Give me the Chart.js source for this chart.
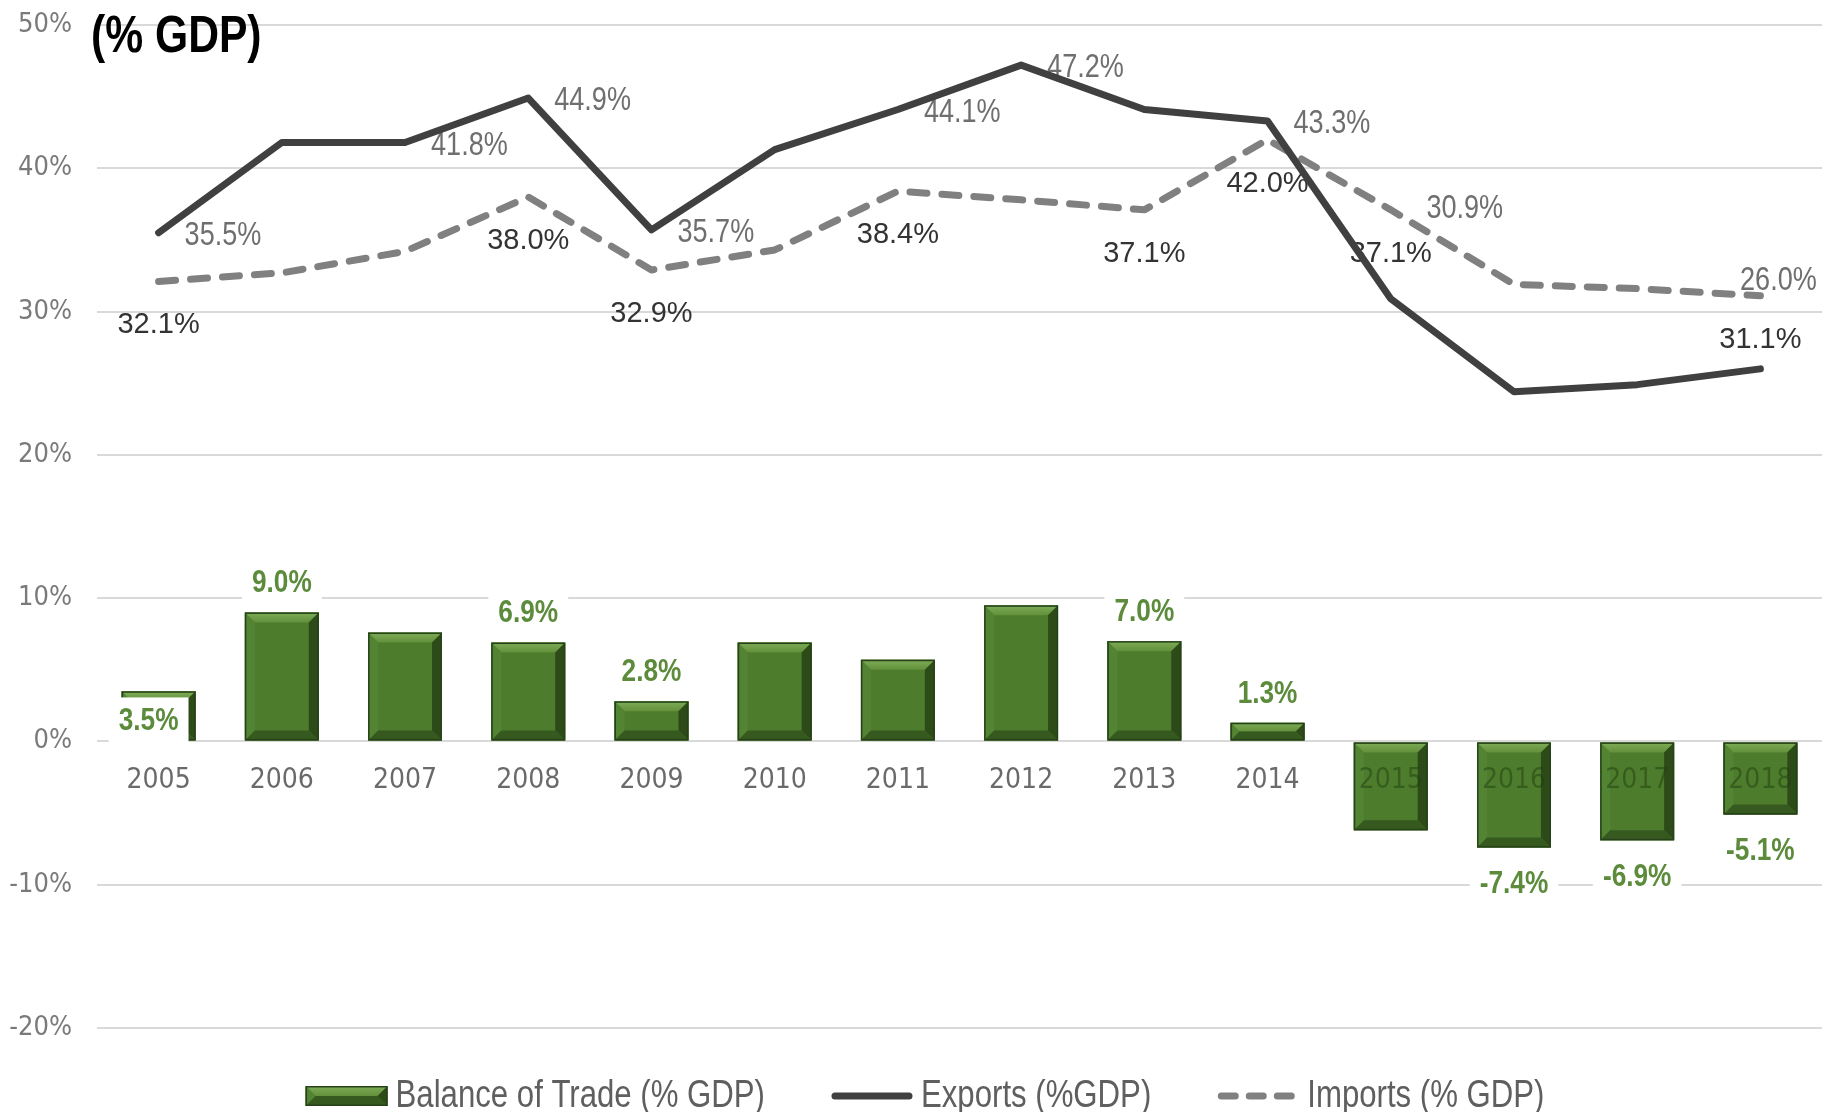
<!DOCTYPE html>
<html>
<head>
<meta charset="utf-8">
<script src="https://cdn.jsdelivr.net/npm/chart.js@4.4.0/dist/chart.umd.min.js"></script>
<style>
  html, body { margin: 0; padding: 0; background: #ffffff; }
  #wrap { width: 1828px; height: 1112px; }
</style>
</head>
<body>
<div id="wrap"><canvas id="c" width="1828" height="1112"></canvas></div>
<script>
// ---------------- data ----------------
const categories = ['2005','2006','2007','2008','2009','2010','2011','2012','2013','2014','2015','2016','2017','2018'];
const balanceOfTrade = [3.5, 9.0, 7.6, 6.9, 2.8, 6.9, 5.7, 9.5, 7.0, 1.3, -6.2, -7.4, -6.9, -5.1];
const exportsGDP = [35.5, 41.8, 41.8, 44.9, 35.7, 41.3, 44.1, 47.2, 44.1, 43.3, 30.9, 24.4, 24.9, 26.0];
const importsGDP = [32.1, 32.7, 34.2, 38.0, 32.9, 34.3, 38.4, 37.8, 37.1, 42.0, 37.1, 31.9, 31.6, 31.1];
const yTickValues = [-20, -10, 0, 10, 20, 30, 40, 50];
const seriesNames = ['Balance of Trade (% GDP)', 'Exports (%GDP)', 'Imports (% GDP)'];
const chartTitle = '(% GDP)';
// indices of points that carry a value label
const balanceLabelIdx = [0, 1, 3, 4, 8, 9, 11, 12, 13];
const exportsLabelIdx = [0, 2, 3, 4, 6, 7, 9, 10, 13];
const importsLabelIdx = [0, 3, 4, 6, 8, 9, 10, 13];

// ---------------- styles ----------------
const COND = "'DejaVu Sans Condensed','Liberation Sans Narrow','Arial Narrow',sans-serif";
const REGULAR = "'Liberation Sans',Arial,sans-serif";
const NARROW_X = 0.82; // horizontal squeeze to imitate a narrow face
const exportsLabelPlacement = { 10: 'aboveRight', 13: 'above' };
const fmt = v => v.toFixed(1) + '%';

function squeezedText(ctx, txt, x, y, align, sx) {
  const w = ctx.measureText(txt).width * sx;
  const lx = align === 'center' ? x - w / 2 : (align === 'right' ? x - w : x);
  ctx.save();
  ctx.translate(lx, y);
  ctx.scale(sx, 1);
  ctx.textAlign = 'left';
  ctx.fillText(txt, 0, 0);
  ctx.restore();
  return w;
}

function drawBevelBar(ctx, l, t, r, b) {
  const w = r - l, h = b - t;
  if (w <= 0 || h <= 0) return;
  const d = Math.max(1, Math.min(10, h / 2, w / 2));
  ctx.save();
  ctx.fillStyle = '#4d7d2c';
  ctx.fillRect(l, t, w, h);
  const poly = (pts, fill) => {
    ctx.beginPath();
    ctx.moveTo(pts[0][0], pts[0][1]);
    for (let k = 1; k < pts.length; k++) ctx.lineTo(pts[k][0], pts[k][1]);
    ctx.closePath();
    ctx.fillStyle = fill;
    ctx.fill();
  };
  const g = ctx.createLinearGradient(0, t, 0, t + d);
  g.addColorStop(0, '#80ad57');
  g.addColorStop(1, '#62903b');
  poly([[l, t], [r, t], [r - d, t + d], [l + d, t + d]], g);
  poly([[l, t], [l + d, t + d], [l + d, b - d], [l, b]], '#538434');
  poly([[r, t], [r, b], [r - d, b - d], [r - d, t + d]], '#2c4b18');
  poly([[l, b], [r, b], [r - d, b - d], [l + d, b - d]], '#35591e');
  ctx.strokeStyle = '#27421a';
  ctx.lineWidth = 1.5;
  ctx.strokeRect(l + 0.75, t + 0.75, w - 1.5, h - 1.5);
  ctx.restore();
}

const customPlugin = {
  id: 'customDecor',
  beforeDatasetsDraw(chart) {
    const ctx = chart.ctx;
    const exMeta = chart.getDatasetMeta(1);
    const imMeta = chart.getDatasetMeta(2);
    ctx.save();
    ctx.textBaseline = 'middle';
    // exports labels (gray, narrow)
    ctx.font = '33px ' + REGULAR;
    ctx.fillStyle = '#6f6f6f';
    exportsLabelIdx.forEach(i => {
      const p = exMeta.data[i];
      const pl = exportsLabelPlacement[i] || 'right';
      let x = p.x, y = p.y, al = 'left';
      if (pl === 'right') { x += 26; y += 3; }
      else if (pl === 'aboveRight') { x += 74; y -= 90; al = 'center'; }
      else { x += 18; y -= 88; al = 'center'; }
      squeezedText(ctx, fmt(exportsGDP[i]), x, y, al, NARROW_X);
    });
    // imports labels (dark, below)
    ctx.font = '29px ' + REGULAR;
    ctx.fillStyle = '#333333';
    ctx.textAlign = 'center';
    importsLabelIdx.forEach(i => {
      const p = imMeta.data[i];
      ctx.fillText(fmt(importsGDP[i]), p.x, p.y + 44);
    });
    ctx.restore();
  },
  afterDatasetDraw(chart, args) {
    if (args.index !== 0) return;
    const ctx = chart.ctx;
    const meta = args.meta;
    meta.data.forEach(el => {
      const half = el.width / 2;
      drawBevelBar(ctx, el.x - half, Math.min(el.y, el.base), el.x + half, Math.max(el.y, el.base));
    });
    // bar value labels with white boxes
    ctx.save();
    ctx.font = 'bold 32px ' + REGULAR;
    ctx.textBaseline = 'middle';
    balanceLabelIdx.forEach(i => {
      const el = meta.data[i];
      const v = balanceOfTrade[i];
      const txt = fmt(v);
      let x = el.x, y;
      if (i === 0) { x -= 10; y = el.base - 20; }
      else if (v >= 0) { y = el.y - 30; }
      else { y = el.y + 36; }
      const tw = ctx.measureText(txt).width * NARROW_X;
      ctx.fillStyle = '#ffffff';
      ctx.fillRect(x - tw / 2 - 10, y - 23, tw + 20, 46);
      ctx.fillStyle = '#5b8b3b';
      squeezedText(ctx, txt, x, y + 1, 'center', NARROW_X);
    });
    ctx.restore();
  },
  afterDraw(chart) {
    const ctx = chart.ctx;
    const area = chart.chartArea;
    ctx.save();
    // title
    ctx.font = 'bold 52px ' + REGULAR;
    ctx.fillStyle = '#000000';
    ctx.textBaseline = 'middle';
    squeezedText(ctx, chartTitle, area.left - 6, area.top + 13, 'left', NARROW_X);

    // legend
    ctx.font = '38px ' + REGULAR;
    const sampleW = 82, gapS = 8, gapItem = 66;
    const widths = seriesNames.map(n => ctx.measureText(n).width * NARROW_X);
    const total = widths.reduce((a, w) => a + sampleW + gapS + w, 0) + gapItem * (seriesNames.length - 1);
    let x = chart.width / 2 + 11 - total / 2;
    const cy = 1096;
    ctx.textBaseline = 'middle';
    seriesNames.forEach((n, k) => {
      if (k === 0) {
        drawBevelBar(ctx, x, cy - 10, x + sampleW, cy + 10);
      } else {
        ctx.save();
        ctx.lineWidth = 7;
        ctx.lineCap = 'round';
        if (k === 1) { ctx.strokeStyle = '#404040'; ctx.setLineDash([]); }
        else { ctx.strokeStyle = '#808080'; ctx.setLineDash([14, 14]); }
        ctx.beginPath();
        ctx.moveTo(x + 4, cy);
        ctx.lineTo(x + sampleW - 4, cy);
        ctx.stroke();
        ctx.restore();
      }
      ctx.fillStyle = '#5f5f5f';
      squeezedText(ctx, n, x + sampleW + gapS, cy + 1, 'left', NARROW_X);
      x += sampleW + gapS + widths[k] + gapItem;
    });
    ctx.restore();
  }
};

const chart = new Chart(document.getElementById('c'), {
  data: {
    labels: categories,
    datasets: [
      {
        type: 'bar',
        label: seriesNames[0],
        data: balanceOfTrade,
        backgroundColor: '#4d7d2c',
        barPercentage: 0.6,
        categoryPercentage: 1.0,
        order: 3
      },
      {
        type: 'line',
        label: seriesNames[1],
        data: exportsGDP,
        borderColor: '#404040',
        borderWidth: 7,
        pointRadius: 0,
        tension: 0,
        borderJoinStyle: 'round',
        borderCapStyle: 'round',
        order: 1
      },
      {
        type: 'line',
        label: seriesNames[2],
        data: importsGDP,
        borderColor: '#808080',
        borderWidth: 7,
        borderDash: [17, 15],
        borderCapStyle: 'round',
        borderJoinStyle: 'round',
        pointRadius: 0,
        tension: 0,
        order: 2
      }
    ]
  },
  options: {
    responsive: false,
    animation: false,
    devicePixelRatio: 1,
    layout: { padding: { left: 0, right: 6, top: 25, bottom: 84 } },
    plugins: { legend: { display: false }, tooltip: { enabled: false }, title: { display: false } },
    scales: {
      x: {
        type: 'category',
        position: { y: 0 },
        offset: true,
        grid: { display: false },
        border: { display: false },
        afterFit: s => { s.paddingTop = 0; s.paddingBottom = 0; s.paddingLeft = 0; s.paddingRight = 0; },
        ticks: {
          z: 1,
          padding: 14,
          maxRotation: 0,
          autoSkip: false,
          font: { family: COND, size: 28 },
          color: ctx => (balanceOfTrade[ctx.index] < 0 ? 'rgba(34,62,16,0.5)' : '#6a6a6a')
        }
      },
      y: {
        min: yTickValues[0],
        max: yTickValues[yTickValues.length - 1],
        afterBuildTicks: s => { s.ticks = yTickValues.map(v => ({ value: v })); },
        afterFit: s => { s.width = 97; s.paddingTop = 0; s.paddingBottom = 0; },
        grid: { color: '#d9d9d9', lineWidth: 2, drawTicks: false },
        border: { display: false },
        ticks: {
          padding: 25,
          font: { family: COND, size: 27 },
          color: '#7a7a7a',
          callback: v => v + '%'
        }
      }
    }
  },
  plugins: [customPlugin]
});
</script>
</body>
</html>
